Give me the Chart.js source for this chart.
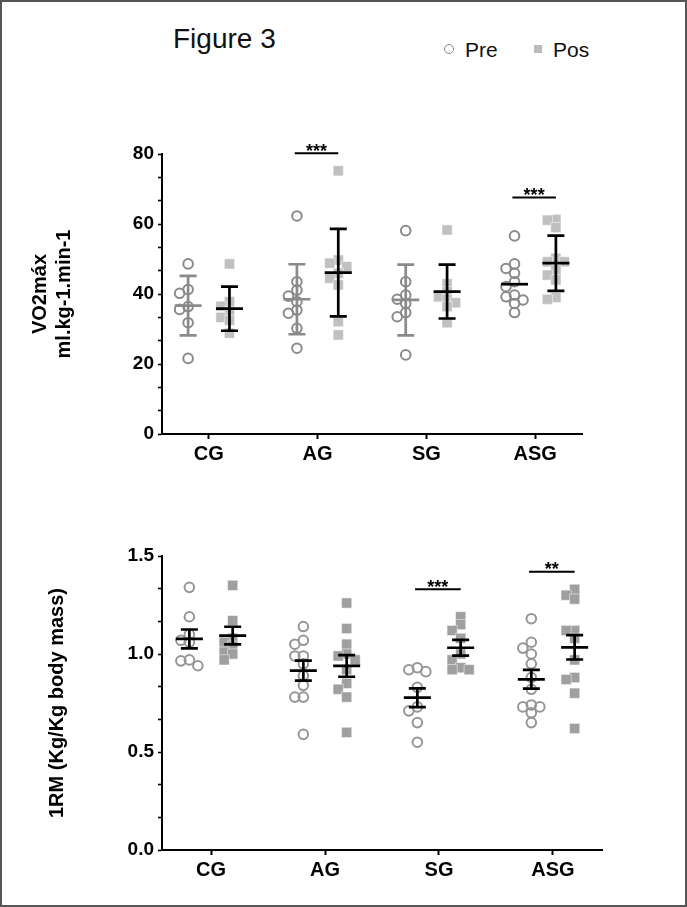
<!DOCTYPE html>
<html><head><meta charset="utf-8">
<script src="https://cdn.jsdelivr.net/npm/chart.js@4.4.1/dist/chart.umd.min.js"></script>
<style>
html,body{margin:0;padding:0;background:#fff;}
#page{position:relative;width:687px;height:907px;overflow:hidden;font-family:"Liberation Sans",Arial,sans-serif;background:#fff;}
#frame{position:absolute;left:0;top:0;width:687px;height:907px;box-sizing:border-box;border:2px solid #555;pointer-events:none;z-index:5;}
#title{position:absolute;left:173px;top:25px;font-size:28px;line-height:28px;color:#111;white-space:nowrap;}
.leg{position:absolute;font-size:21px;line-height:21px;color:#111;white-space:nowrap;}
.mk{position:absolute;box-sizing:border-box;}
#c1{position:absolute;left:0;top:100px;}
#c2{position:absolute;left:0;top:500px;}
</style></head>
<body><div id="page">
<div id="title">Figure 3</div>
<div class="mk" style="left:444px;top:44px;width:10px;height:10px;border:1.7px solid #888;border-radius:50%;"></div>
<div class="leg" style="left:465px;top:39px;">Pre</div>
<div class="mk" style="left:534px;top:45px;width:8px;height:8px;background:#bbb;"></div>
<div class="leg" style="left:553px;top:39px;">Pos</div>
<canvas id="c1" width="687" height="380"></canvas>
<canvas id="c2" width="687" height="400"></canvas>
<div id="frame"></div>
</div>
<script>
// ---------- DATA ----------
const categories = ['CG', 'AG', 'SG', 'ASG'];

// VO2max (ml.kg-1.min-1) individual values, per category
const vo2Pre = [
  [48.6, 41.3, 40.2, 36.4, 35.6, 31.8, 21.6],
  [62.3, 43.5, 41.1, 39.4, 37.8, 35.4, 34.5, 30.2, 24.5],
  [58.1, 43.5, 39.7, 38.5, 37.3, 34.7, 33.5, 22.6],
  [56.6, 48.6, 47.3, 45.9, 43.5, 42.1, 39.7, 39.2, 38.3, 37.3, 34.7]
];
const vo2Pos = [
  [48.6, 37.8, 36.5, 35.0, 33.3, 32.5, 28.8],
  [75.2, 49.7, 48.8, 47.8, 45.9, 44.5, 42.6, 32.1, 28.3],
  [58.3, 42.9, 40.7, 39.2, 38.5, 37.5, 36.4, 31.8],
  [61.3, 61.1, 59.0, 50.2, 49.2, 49.2, 46.9, 45.4, 44.0, 39.0, 38.5]
];
const vo2PreMean = [36.7, 38.5, 38.3, 42.8];
const vo2PreSD   = [8.5, 10.0, 10.1, 0];
const vo2PosMean = [35.8, 46.1, 40.7, 48.8];
const vo2PosSD   = [6.3, 12.5, 7.7, 7.9];
const vo2Ticks   = [0, 20, 40, 60, 80];
const vo2SigCats   = ['AG', 'ASG'];
const vo2SigLevels = [80.2, 67.6];
const vo2SigLabels = ['***', '***'];

// 1RM (Kg/Kg body mass)
const rmPre = [
  [1.34, 1.19, 1.10, 1.07, 1.06, 0.97, 0.965, 0.94],
  [1.14, 1.07, 1.05, 0.99, 0.99, 0.95, 0.89, 0.84, 0.78, 0.78, 0.59],
  [0.93, 0.92, 0.91, 0.83, 0.73, 0.71, 0.65, 0.55],
  [1.18, 1.06, 1.03, 1.00, 0.95, 0.88, 0.82, 0.74, 0.73, 0.73, 0.70, 0.65]
];
const rmPos = [
  [1.35, 1.17, 1.08, 1.06, 1.04, 1.01, 1.00, 0.97],
  [1.26, 1.13, 1.05, 1.00, 0.99, 0.97, 0.92, 0.85, 0.82, 0.78, 0.60],
  [1.19, 1.15, 1.12, 1.08, 1.00, 0.97, 0.93, 0.92, 0.92],
  [1.33, 1.30, 1.28, 1.12, 1.12, 1.08, 0.97, 0.88, 0.87, 0.80, 0.62]
];
const rmPreMean = [1.077, 0.915, 0.777, 0.871];
const rmPreSEM  = [0.048, 0.051, 0.048, 0.048];
const rmPosMean = [1.094, 0.939, 1.032, 1.034];
const rmPosSEM  = [0.045, 0.055, 0.040, 0.062];
const rmTicks   = [0, 0.5, 1.0, 1.5];
const rmSigCats   = ['SG', 'ASG'];
const rmSigLevels = [1.33, 1.42];
const rmSigLabels = ['***', '**'];

// ---------- DRAWING ----------
Chart.defaults.font.family = '"Liberation Sans", Arial, sans-serif';
Chart.defaults.color = '#000';

const PRE_OFF = -0.19, POS_OFF = 0.19;

function makeBarsPlugin(groups, sig) {
  return {
    id: 'bars',
    afterDatasetsDraw(chart) {
      const {ctx, scales: {x, y}} = chart;
      ctx.save();
      groups.forEach(g => {
        g.mean.forEach((m, i) => {
          if (m == null) return;
          const cx = x.getPixelForValue(i + g.offset);
          ctx.strokeStyle = g.colors[i];
          ctx.lineWidth = 2.7;
          ctx.lineCap = 'butt';
          const my = y.getPixelForValue(m);
          ctx.beginPath();
          ctx.moveTo(cx - 13.5, my); ctx.lineTo(cx + 13.5, my);
          const e = g.err[i];
          if (e) {
            const t = y.getPixelForValue(m + e), b = y.getPixelForValue(m - e);
            ctx.moveTo(cx, t); ctx.lineTo(cx, b);
            ctx.moveTo(cx - 8.5, t); ctx.lineTo(cx + 8.5, t);
            ctx.moveTo(cx - 8.5, b); ctx.lineTo(cx + 8.5, b);
          }
          ctx.stroke();
        });
      });
      // significance markers
      sig.cats.forEach((c, k) => {
        const i = categories.indexOf(c);
        const x0 = x.getPixelForValue(i + PRE_OFF - 0.02);
        const x1 = x.getPixelForValue(i + POS_OFF);
        const ly = y.getPixelForValue(sig.levels[k]);
        ctx.strokeStyle = '#000';
        ctx.lineWidth = 2;
        ctx.beginPath(); ctx.moveTo(x0, ly); ctx.lineTo(x1, ly); ctx.stroke();
        ctx.fillStyle = '#000';
        ctx.font = 'bold 18px "Liberation Sans", Arial, sans-serif';
        ctx.textAlign = 'center';
        ctx.textBaseline = 'alphabetic';
        ctx.fillText(sig.labels[k], (x0 + x1) / 2, ly + 3.5);
      });
      ctx.restore();
    }
  };
}

function makeChart(id, o) {
  const init = (vals, off) => {
    const d = [];
    vals.forEach((arr, i) => arr.forEach(v => d.push({x: i + off, y: v})));
    return d;
  };
  const chart = new Chart(document.getElementById(id), {
    type: 'scatter',
    data: {
      datasets: [
        {label: 'Pre', data: init(o.pre, PRE_OFF), pointStyle: 'circle', pointRadius: 4.8,
         borderWidth: 2, borderColor: o.preColor, backgroundColor: 'rgba(255,255,255,0)', clip: false},
        {label: 'Pos', data: init(o.pos, POS_OFF), pointStyle: 'rect', pointRadius: 7.2,
         borderWidth: 0.6, borderColor: 'rgba(255,255,255,0.8)', backgroundColor: o.posColor, clip: false}
      ]
    },
    options: {
      responsive: false,
      animation: false,
      events: [],
      layout: {padding: {left: 0, top: o.padTop, right: o.padRight, bottom: 0}},
      plugins: {legend: {display: false}, tooltip: {enabled: false}},
      scales: {
        x: {
          type: 'linear', min: -0.43, max: 3.43,
          afterBuildTicks: s => { s.ticks = categories.map((c, i) => ({value: i})); },
          afterFit: s => { s.height = o.xHeight; },
          ticks: {callback: v => categories[Math.round(v)], font: {size: 20, weight: 'bold'}, color: '#000', padding: 3, maxRotation: 0, autoSkip: false},
          grid: {display: true, drawOnChartArea: false, drawTicks: true, tickLength: 5, tickColor: '#000', tickWidth: 2},
          border: {display: true, color: '#000', width: 2}
        },
        y: {
          type: 'linear', min: o.ticks[0], max: o.ticks[o.ticks.length - 1],
          afterBuildTicks: s => {
            const t = [];
            o.ticks.forEach((v, k) => {
              t.push({value: v});
              if (k < o.ticks.length - 1) {
                const st = (o.ticks[k + 1] - v) / 3;
                t.push({value: v + st}, {value: v + 2 * st});
              }
            });
            s.ticks = t;
          },
          afterFit: s => { s.width = 162; },
          ticks: {callback: (v, idx) => idx % 3 === 0 ? o.fmt(v) : '', font: {size: 19, weight: 'bold'}, color: '#000', padding: 4, autoSkip: false},
          grid: {display: true, drawOnChartArea: false, drawTicks: true, tickLength: 4, tickColor: '#000', tickWidth: 1.6},
          border: {display: true, color: '#000', width: 2},
          title: {display: true, text: o.title, font: {size: 20, weight: 'bold'}, color: '#000', padding: {top: o.titlePad, bottom: 0}}
        }
      }
    },
    plugins: [makeBarsPlugin(o.groups, o.sig)]
  });
  // beeswarm spreading of points (layout only)
  const xs = chart.scales.x, ys = chart.scales.y;
  const ppx = xs.getPixelForValue(1) - xs.getPixelForValue(0);
  const STEP = 8.5, MIND = 7;
  [[o.pre, PRE_OFF], [o.pos, POS_OFF]].forEach(([vals, off], di) => {
    const d = [];
    vals.forEach((arr, i) => {
      const placed = [];
      arr.slice().sort((a, b) => b - a).forEach(v => {
        const py = ys.getPixelForValue(v);
        let chosen = 0;
        for (const k of [0, -1, 1, -2, 2]) {
          const px = k * STEP;
          if (placed.every(p => Math.hypot(p.px - px, p.py - py) >= MIND)) { chosen = px; break; }
        }
        placed.push({px: chosen, py});
        d.push({x: i + off + chosen / ppx, y: v});
      });
    });
    chart.data.datasets[di].data = d;
  });
  chart.update('none');
  return chart;
}

makeChart('c1', {
  pre: vo2Pre, pos: vo2Pos, preColor: '#8a8a8a', posColor: '#c0c0c0',
  ticks: vo2Ticks, fmt: v => String(Math.round(v)),
  title: ['VO2máx', 'ml.kg-1.min-1'], titlePad: 28.5,
  padTop: 54, padRight: 105, xHeight: 46,
  groups: [
    {mean: vo2PreMean, err: vo2PreSD, offset: PRE_OFF, colors: ['#8a8a8a', '#8a8a8a', '#8a8a8a', '#000']},
    {mean: vo2PosMean, err: vo2PosSD, offset: POS_OFF, colors: ['#000', '#000', '#000', '#000']}
  ],
  sig: {cats: vo2SigCats, levels: vo2SigLevels, labels: vo2SigLabels}
});

makeChart('c2', {
  pre: rmPre, pos: rmPos, preColor: '#969696', posColor: '#9f9f9f',
  ticks: rmTicks, fmt: v => v.toFixed(1),
  title: '1RM (Kg/Kg body mass)', titlePad: 45.5,
  padTop: 56, padRight: 85, xHeight: 50,
  groups: [
    {mean: rmPreMean, err: rmPreSEM, offset: PRE_OFF, colors: ['#000', '#000', '#000', '#000']},
    {mean: rmPosMean, err: rmPosSEM, offset: POS_OFF, colors: ['#000', '#000', '#000', '#000']}
  ],
  sig: {cats: rmSigCats, levels: rmSigLevels, labels: rmSigLabels}
});
</script>
</body></html>
